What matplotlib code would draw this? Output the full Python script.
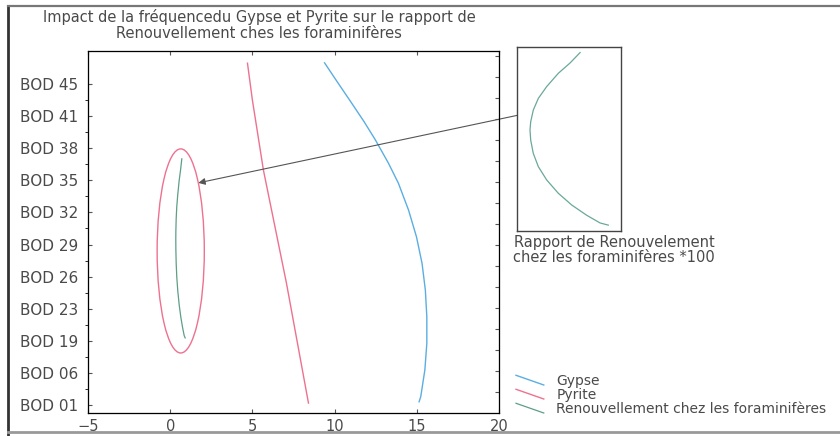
import matplotlib
matplotlib.use("Agg")
import matplotlib.pyplot as plt
from matplotlib.patches import Ellipse
from matplotlib.lines import Line2D
from matplotlib.legend_handler import HandlerBase
import numpy as np

# niveaux BOD (du bas vers le haut)
bod_labels = ['BOD 01', 'BOD 06', 'BOD 19', 'BOD 23', 'BOD 26', 'BOD 29',
              'BOD 32', 'BOD 35', 'BOD 38', 'BOD 41', 'BOD 45']
bod_pos = np.arange(1, len(bod_labels) + 1)

# Gypse
gypse_y = [1.10, 1.26, 2.09, 2.92, 3.75, 4.58, 5.41, 6.24, 7.07, 7.91,
           8.53, 9.26, 9.83, 10.45, 11.07, 11.66]
gypse_x = [15.14, 15.24, 15.49, 15.61, 15.61, 15.52, 15.32, 14.98, 14.50, 13.88,
           13.28, 12.48, 11.79, 10.98, 10.16, 9.39]

# Pyrite
pyrite_y = [1.06, 4.80, 8.32, 10.50, 11.65]
pyrite_x = [8.41, 7.07, 5.67, 5.00, 4.70]

# Rapport de renouvellement chez les foraminiferes
renouv_y = [3.09, 3.16, 3.41, 3.74, 4.12, 4.55, 4.98, 5.41, 5.84, 6.17,
            6.43, 6.81, 7.19, 7.57, 8.00, 8.33, 8.67]
renouv_x = [0.912, 0.852, 0.754, 0.645, 0.547, 0.462, 0.401, 0.364, 0.345, 0.340,
            0.345, 0.364, 0.401, 0.462, 0.547, 0.632, 0.706]

c_gypse = '#5aaee2'
c_pyrite = '#ee7190'
c_renouv = '#5e9e86'
c_txt = '#4a4a4a'

plt.rcParams['font.family'] = 'DejaVu Sans'


class SlantHandler(HandlerBase):
    # petit trait oblique dans la legende
    def create_artists(self, legend, orig_handle, xdescent, ydescent,
                       width, height, fontsize, trans):
        x0, y0 = -xdescent, -ydescent
        line = Line2D([x0, x0 + width], [y0 + height, y0],
                      color=orig_handle.get_color(),
                      linewidth=orig_handle.get_linewidth(),
                      linestyle=orig_handle.get_linestyle())
        line.set_transform(trans)
        return [line]


W, H = 840, 436
fig = plt.figure(figsize=(8.4, 4.36), dpi=100)

# cadre de la figure
fig.add_artist(Line2D([8 / W, 8 / W], [0, 1 - 6 / H], transform=fig.transFigure,
                      color='#333333', lw=2))
fig.add_artist(Line2D([8 / W, 1], [1 - 6 / H, 1 - 6 / H], transform=fig.transFigure,
                      color='#777777', lw=1.6))
fig.add_artist(Line2D([8 / W, 1], [4 / H, 4 / H], transform=fig.transFigure,
                      color='#999999', lw=2))

ax = fig.add_axes([88 / W, 1 - 413 / H, (499 - 88) / W, (413 - 51) / H])
ax.plot(gypse_x, gypse_y, color=c_gypse, lw=1.0, label='Gypse')
ax.plot(pyrite_x, pyrite_y, color=c_pyrite, lw=1.0, label='Pyrite')
ax.plot(renouv_x, renouv_y, color=c_renouv, lw=0.9,
        label='Renouvellement chez les foraminifères')

ax.add_patch(Ellipse((0.64, 5.80), 2.87, 6.36, fill=False, ec=c_pyrite, lw=1.0))

ax.set_xlim(-5, 20)
ax.set_ylim(0.75, 12.03)
ax.set_xticks([-5, 0, 5, 10, 15, 20])
ax.set_yticks(bod_pos)
ax.set_yticklabels(bod_labels)
ax.set_yticks(bod_pos[:-1] + 0.5, minor=True)
ax.tick_params(axis='both', direction='in', colors='#555555', labelcolor=c_txt,
               labelsize=10.5, length=3, width=0.8)
ax.tick_params(axis='y', labelsize=11)
ax.tick_params(axis='x', top=True, pad=4)
ax.tick_params(axis='y', which='both', pad=7)
ax.tick_params(axis='y', which='minor', length=2)
for s in ax.spines.values():
    s.set_color('#555555')
    s.set_linewidth(0.9)

# graduations du cote droit
ax2 = ax.twinx()
ax2.set_ylim(0, 17.24)
ax2.set_yticks(np.arange(1, 18))
ax2.tick_params(axis='y', direction='in', length=3, width=0.8, colors='#555555',
                labelright=False)

# fleche vers le zoom
ax.annotate('', xy=(1.71, 7.92), xytext=(21.16, 10.03),
            arrowprops=dict(arrowstyle='-|>', color='#555555', lw=0.8,
                            mutation_scale=10, shrinkA=0, shrinkB=0),
            annotation_clip=False)

leg = ax.legend(handler_map={Line2D: SlantHandler()}, frameon=False,
                loc='upper left', bbox_to_anchor=(516 / W, 1 - 374 / H),
                bbox_transform=fig.transFigure, fontsize=10,
                labelspacing=0.0, handlelength=2.0, handletextpad=0.9,
                borderpad=0, borderaxespad=0)
for t in leg.get_texts():
    t.set_color(c_txt)

# encart
axi = fig.add_axes([517 / W, 1 - 231 / H, (621 - 517) / W, (231 - 47) / H])
axi.plot(renouv_x, renouv_y, color='#6aa89a', lw=0.9)
axi.set_xlim(0.245, 1.005)
axi.set_ylim(2.90, 8.85)
axi.set_xticks([])
axi.set_yticks([])
for s in axi.spines.values():
    s.set_color('#444444')
    s.set_linewidth(1.0)

fig.text(614 / W, 1 - 250 / H, 'Rapport de Renouvelement\nchez les foraminifères *100',
         ha='center', va='center', fontsize=10.5, color=c_txt, linespacing=1.05)

fig.text(259 / W, 1 - 25 / H,
         'Impact de la fréquencedu Gypse et Pyrite sur le rapport de\n'
         'Renouvellement ches les foraminifères',
         ha='center', va='center', fontsize=10.5, color=c_txt, linespacing=1.1)

fig.savefig('out.png', dpi=100)
